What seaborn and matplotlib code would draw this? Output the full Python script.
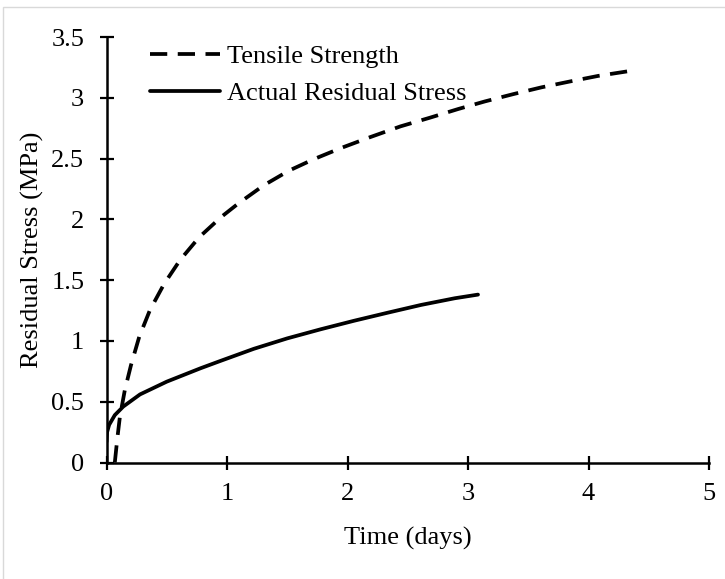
import matplotlib
matplotlib.use("Agg")
import matplotlib.pyplot as plt
import seaborn as sns
import pandas as pd
from matplotlib.patches import Rectangle

# ---- data ----
tensile_x = [0.069, 0.09, 0.111, 0.152, 0.203, 0.272, 0.361, 0.478, 0.611, 0.769, 0.95,
             1.097, 1.305, 1.513, 1.72, 1.944, 2.19, 2.44, 2.68, 2.92, 3.14, 3.375,
             3.61, 3.85, 4.08, 4.34]
tensile_y = [0.0, 0.2, 0.375, 0.595, 0.80, 1.035, 1.255, 1.469, 1.666, 1.853, 2.018,
             2.133, 2.28, 2.40, 2.495, 2.586, 2.677, 2.765, 2.835, 2.908, 2.97, 3.03,
             3.086, 3.135, 3.18, 3.22]
residual_x = [0.0, 0.005, 0.022, 0.069, 0.139, 0.278, 0.5, 0.78, 0.944, 1.222, 1.5,
              1.778, 2.055, 2.333, 2.61, 2.89, 3.083]
residual_y = [0.17, 0.25, 0.31, 0.39, 0.46, 0.56, 0.665, 0.775, 0.835, 0.935, 1.021,
              1.096, 1.166, 1.232, 1.296, 1.351, 1.381]
series_names = ["Tensile Strength", "Actual Residual Stress"]
x_ticks = [0, 1, 2, 3, 4, 5]
y_ticks = [0, 0.5, 1, 1.5, 2, 2.5, 3, 3.5]
y_tick_labels = ["0", "0.5", "1", "1.5", "2", "2.5", "3", "3.5"]

df_t = pd.DataFrame({"x": tensile_x, "y": tensile_y})
df_r = pd.DataFrame({"x": residual_x, "y": residual_y})

sns.set_theme(style="white")
plt.rcParams["font.family"] = ["Liberation Serif", "DejaVu Serif"]
FS = 19

fig = plt.figure(figsize=(7.25, 5.79), dpi=100)
ax = fig.add_axes([106.5 / 725, 1 - 462.5 / 579, (709 - 106.5) / 725, (462.5 - 37) / 579])

sns.lineplot(data=df_t, x="x", y="y", ax=ax, color="black", lw=2.7,
             sort=False, estimator=None, label=series_names[0])
ax.lines[-1].set_dashes([4.6, 2.8])
sns.lineplot(data=df_r, x="x", y="y", ax=ax, color="black", lw=2.7,
             sort=False, estimator=None, label=series_names[1])
for ln in ax.lines:
    ln.set_solid_joinstyle("round")
    ln.set_dash_joinstyle("round")

ax.set_xlim(0, 5)
ax.set_ylim(0, 3.5)
ax.set_xticks(x_ticks)
ax.set_xticklabels([str(v) for v in x_ticks])
ax.set_yticks(y_ticks)
ax.set_yticklabels(y_tick_labels)
ax.tick_params(axis="both", direction="inout", length=10, width=1.6,
               colors="black", labelsize=FS, bottom=True, left=True)
ax.tick_params(axis="y", pad=11)
ax.tick_params(axis="x", pad=9.5)
for side in ["top", "right"]:
    ax.spines[side].set_visible(False)
for side in ["left", "bottom"]:
    ax.spines[side].set_color("black")
    ax.spines[side].set_linewidth(1.8)
ax.set_xlabel("Time (days)", fontsize=FS, color="black", labelpad=16)
ax.set_ylabel("Residual Stress (MPa)", fontsize=FS, color="black", labelpad=5)
ax.grid(False)

leg = ax.legend(loc="upper left", bbox_to_anchor=(150 / 725, 1 - 45 / 579),
                bbox_transform=fig.transFigure, frameon=False, fontsize=FS,
                handlelength=2.65, handletextpad=0.25, labelspacing=0.5,
                borderpad=0, borderaxespad=0)
for t in leg.get_texts():
    t.set_color("black")

# light figure border (top & left visible in reference)
fig.patches.append(Rectangle((3 / 725, -0.5), 2.0, 1.5 - 7 / 579, transform=fig.transFigure,
                             fill=False, edgecolor="#d9d9d9", linewidth=1.0, zorder=-1))

fig.savefig("out.png", dpi=100, facecolor="white")
